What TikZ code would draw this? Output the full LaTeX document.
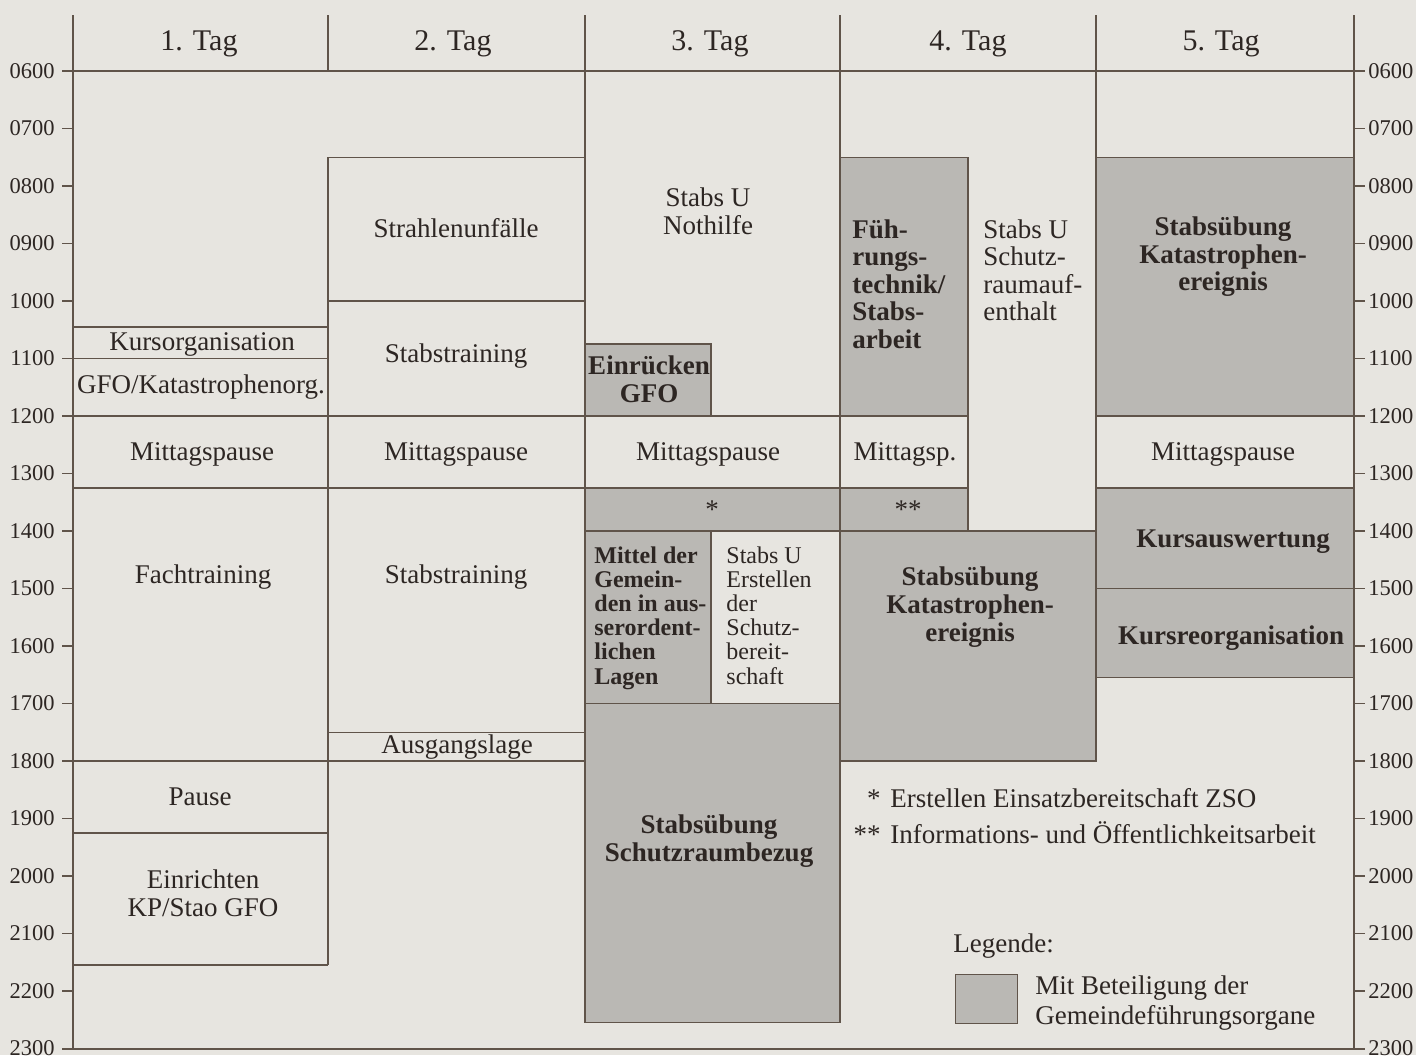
\documentclass[tikz,border=0pt]{standalone}
\usepackage{fontspec}
\setmainfont{Liberation Serif}
\usepackage{tikz}
\usetikzlibrary{positioning, calc}

\definecolor{papier}{RGB}{231,229,224}
\definecolor{schatten}{RGB}{186,184,180}
\definecolor{strich}{RGB}{96,84,74}
\definecolor{schrift}{RGB}{45,38,35}

\begin{document}
\begin{tikzpicture}[x=0.5pt, y=-0.5pt,
    declare function={t(\s)=71+(\s-6)*57.5;},
    linie/.style={draw=strich, line width=0.7pt},
    grau/.style={linie, fill=schatten},
    txt/.style={text=schrift, inner sep=0pt, align=center, font=\fontsize{13.5}{13.8}\selectfont},
    fett/.style={txt, font=\fontsize{13.5}{13.8}\selectfont\bfseries},
    klein/.style={txt, align=left, font=\fontsize{12}{12.1}\selectfont},
    kopf/.style={txt, font=\fontsize{15}{18}\selectfont},
    zeit/.style={text=schrift, inner sep=0pt, font=\fontsize{11.25}{13}\selectfont}]
  \fill[papier] (0,0) rectangle (1416,1055);
  \useasboundingbox (0,0) rectangle (1416,1055);

  \path[grau] (585,{t(10.75)}) rectangle (711,{t(12)})
              (585,{t(13.25)}) rectangle (840,{t(14)})
              (585,{t(14)}) rectangle (711,{t(17)})
              (585,{t(17)}) rectangle (840,{t(22.55)})
              (840,{t(7.5)}) rectangle (968,{t(12)})
              (840,{t(13.25)}) rectangle (968,{t(14)})
              (840,{t(14)}) rectangle (1096,{t(18)})
              (1096,{t(7.5)}) rectangle (1354,{t(12)})
              (1096,{t(13.25)}) rectangle (1354,{t(15)})
              (1096,{t(15)}) rectangle (1354,{t(16.55)});

  \draw[linie] (73,15) -- (73,1049) (1354,15) -- (1354,1049)
               (62,71) -- (1365,71) (62,1049) -- (1365,1049)
               (328,15) -- (328,71) (328,{t(7.5)}) -- (328,{t(21.55)})
               (585,15) -- (585,{t(22.55)}) (840,15) -- (840,{t(22.55)})
               (1096,15) -- (1096,{t(18)}) (968,{t(7.5)}) -- (968,{t(14)})
               (585,{t(12)}) -- (840,{t(12)});
  \foreach \h in {10.45,11,12,13.25,18,19.25,21.55}
    \draw[linie] (73,{t(\h)}) -- (328,{t(\h)});
  \foreach \h in {7.5,10,12,13.25,17.5,18}
    \draw[linie] (328,{t(\h)}) -- (585,{t(\h)});

  \foreach \h in {6,...,23} {
    \draw[linie] (62,{t(\h)}) -- (73,{t(\h)}) (1354,{t(\h)}) -- (1365,{t(\h)});
    \node[zeit, anchor=east] (zl\h) at (55,{t(\h)}) {\ifnum\h<10 0\fi\h00};
    \node[zeit, anchor=west] (zr\h) at (1368,{t(\h)}) {\ifnum\h<10 0\fi\h00};
  }

  \foreach \i/\x in {1/199,2/453,3/710,4/968,5/1221}
    \node[kopf, anchor=base] (tag\i) at (\x,50) {\i. Tag};

  \node[txt, anchor=base] (kursorg) at (202,350) {Kursorganisation};
  \node[txt, anchor=base] (gfo) at (201,393) {GFO/Katastrophenorg.};
  \node[txt, anchor=base] (mittag1) at (202,460) {Mittagspause};
  \node[txt, anchor=base] (fach) at (203,583) {Fachtraining};
  \node[txt, anchor=base] (pause) at (200,805) {Pause};
  \node[txt] (einrichten) at (203,893) {Einrichten\\KP/Stao GFO};

  \node[txt, anchor=base] (strahlen) at (456,237) {Strahlenunfälle};
  \node[txt, anchor=base] (stabstr1) at (456,362) {Stabstraining};
  \node[txt, anchor=base] (mittag2) at (456,460) {Mittagspause};
  \node[txt, anchor=base] (stabstr2) at (456,583) {Stabstraining};
  \node[txt, anchor=base] (ausgang) at (457,753) {Ausgangslage};

  \node[txt] (nothilfe) at (708,211) {Stabs U\\Nothilfe};
  \node[fett] (einruecken) at (649,379) {Einrücken\\GFO};
  \node[txt, anchor=base] (mittag3) at (708,460) {Mittagspause};
  \node[txt] (stern3) at (712,510) {*};
  \node[klein, font=\fontsize{12}{12.1}\selectfont\bfseries, anchor=north west] (mittel) at (594,546)
    {Mittel der\\Gemein-\\den in aus-\\serordent-\\lichen\\Lagen};
  \node[klein, anchor=north west] (erstellen) at (726,546)
    {Stabs U\\Erstellen\\der\\Schutz-\\bereit-\\schaft};
  \node[fett] (bezug) at (709,841) {Stabsübung\\Schutzraumbezug};

  \node[fett, align=left, anchor=north west] (fuehrung) at (852,219)
    {Füh-\\rungs-\\technik/\\Stabs-\\arbeit};
  \node[txt, align=left, anchor=north west] (aufenthalt) at (983,219)
    {Stabs U\\Schutz-\\raumauf-\\enthalt};
  \node[txt, anchor=base] (mittag4) at (905,460) {Mittagsp.};
  \node[txt] (stern4) at (908,510) {**};
  \node[fett] (kat4) at (970,607) {Stabsübung\\Katastrophen-\\ereignis};

  \node[fett] (kat5) at (1223,257) {Stabsübung\\Katastrophen-\\ereignis};
  \node[txt, anchor=base] (mittag5) at (1223,460) {Mittagspause};
  \node[fett, anchor=base] (auswertung) at (1233,547) {Kursauswertung};
  \node[fett, anchor=base] (reorg) at (1231,644) {Kursreorganisation};

  \node[txt, anchor=base west] (fn1) at (890,807) {Erstellen Einsatzbereitschaft ZSO};
  \node[txt, anchor=base east] (fs1) at (881,807) {*};
  \node[txt, anchor=base west] (fn2) at (890,843) {Informations- und Öffentlichkeitsarbeit};
  \node[txt, anchor=base east] (fs2) at (881,843) {**};

  \node[txt, anchor=base west] (legende) at (953,952) {Legende:};
  \node[grau, minimum width=31pt, minimum height=24.5pt, inner sep=0pt, anchor=north west] (legfeld) at (955,974) {};
  \node[txt, align=left, font=\fontsize{13.5}{15}\selectfont, anchor=north west] (legtext) at (1035,975)
    {Mit Beteiligung der\\Gemeindeführungsorgane};
\end{tikzpicture}
\end{document}
